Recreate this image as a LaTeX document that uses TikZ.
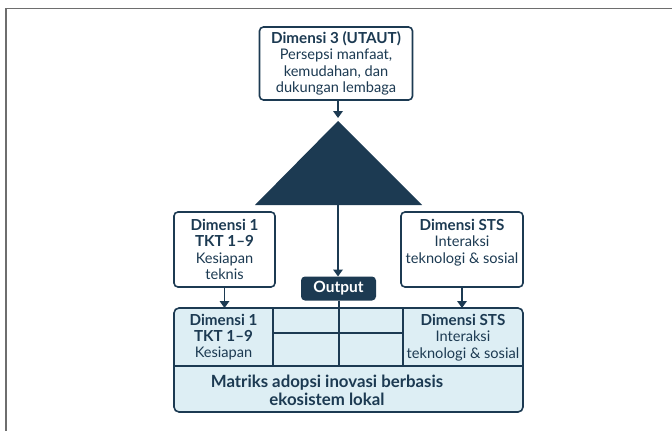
\documentclass[tikz,border=0pt]{standalone}
\usepackage{fontspec}
\setmainfont{Lato}
\usetikzlibrary{arrows.meta,calc}
\definecolor{navy}{HTML}{1C3A52}
\definecolor{paleblue}{HTML}{DDEEF4}
\definecolor{framegray}{HTML}{6E6E6E}
\begin{document}
\begin{tikzpicture}[x=1pt,y=-1pt,
  every node/.style={inner sep=0pt,outer sep=0pt,text=navy,font=\fontsize{14.6}{16.3}\selectfont},
  whitebox/.style={draw=navy,line width=1.6pt,fill=white,rounded corners=4pt,align=center},
  conn/.style={draw=navy,line width=1.8pt,-{Triangle[length=7pt,width=9.5pt]}},
  grid/.style={draw=navy,line width=1.3pt}]
\newcommand{\hdf}{\bfseries\fontsize{15.2}{16.3}\selectfont}
\useasboundingbox (0,0) rectangle (672,431);
\fill[white] (0,0) rectangle (672,431);
% frame
\draw[framegray,line width=1.5pt] (6,431) -- (6,8.5) -- (672,8.5);
% top box
\node[whitebox,minimum width=153pt,minimum height=73pt] (top) at (336,63.5)
  {{\hdf Dimensi 3 (UTAUT)}\\Persepsi manfaat,\\kemudahan, dan\\dukungan lembaga};
% triangle
\coordinate (apex) at (338,121);
\coordinate (bl) at (255,205);
\coordinate (br) at (422,205);
\coordinate (bc) at (338,205);
\fill[navy] (apex) -- (br) -- (bl) -- cycle;
\draw[conn] (top.south -| apex) -- ($(apex)+(0,-3)$);
% side boxes
\node[whitebox,minimum width=101pt,minimum height=75pt] (lb) at (224.5,249.5)
  {{\hdf Dimensi 1}\\{\hdf TKT 1--9}\\Kesiapan\\teknis};
\node[whitebox,minimum width=122pt,minimum height=75pt] (rb) at (462,249.5) {};
\node[align=center] (rbt) at (462,242.5)
  {{\hdf Dimensi STS}\\Interaksi\\teknologi \& sosial};
% output
\node[fill=navy,rounded corners=4pt,minimum width=75pt,minimum height=24pt,text=white,font=\bfseries\fontsize{15.5}{16}\selectfont] (out) at (338.5,288.5) {Output};
\draw[conn] (bc) -- (out.north -| bc);
% matrix
\node[draw=navy,line width=1.6pt,fill=paleblue,rounded corners=5pt,minimum width=349pt,minimum height=104pt] (mat) at (348.5,360) {};
\draw[conn] (lb.south) -- (lb.south |- mat.north);
\draw[conn] (rb.south) -- (rb.south |- mat.north);
\coordinate (c1) at (273,308);
\coordinate (c2) at (339,308);
\coordinate (c3) at (403,308);
\coordinate (hm) at (0,333);
\coordinate (hb) at (0,366);
\draw[grid] (c1) -- (c1 |- hb);
\draw[grid] (c3) -- (c3 |- hb);
\draw[grid] (out.south -| c2) -- (c2 |- hb);
\draw[grid] (c1 |- hm) -- (c3 |- hm);
\draw[grid] (mat.west |- hb) -- (mat.east |- hb);
\node[align=center] (ml) at (223.5,337)
  {{\hdf Dimensi 1}\\{\hdf TKT 1--9}\\Kesiapan};
\node[align=center] (mr) at (463,337.5)
  {{\hdf Dimensi STS}\\Interaksi\\teknologi \& sosial};
\node[align=center,font=\bfseries\fontsize{16.8}{18}\selectfont] (mb) at (327,390.5)
  {Matriks adopsi inovasi berbasis\\ekosistem lokal};
\end{tikzpicture}
\end{document}
